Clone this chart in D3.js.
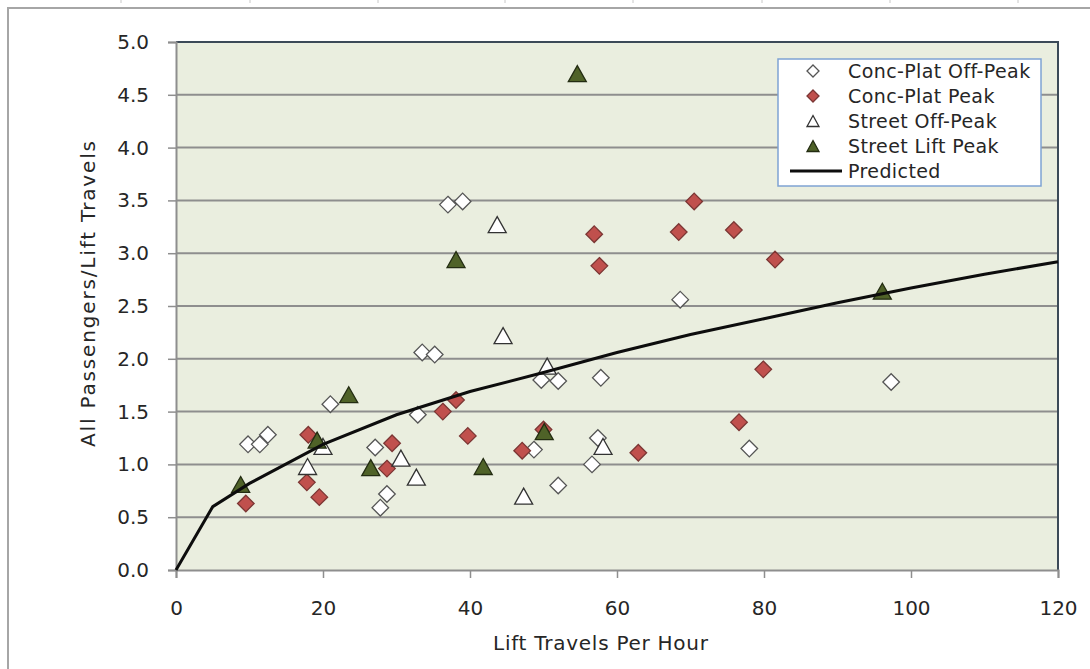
<!DOCTYPE html>
<html>
<head>
<meta charset="utf-8">
<script src="https://cdn.jsdelivr.net/npm/d3@7"></script>
<style>
  html, body { margin: 0; padding: 0; background: #ffffff; }
  svg { display: block; }
  text { font-family: "DejaVu Sans", sans-serif; fill: #262626; }
</style>
</head>
<body>
<svg id="chart" width="1090" height="669"></svg>
<script>
// ---- data ----
const concPlatOffPeak = [
  [9.8, 1.19], [11.4, 1.19], [12.5, 1.28], [21.0, 1.57], [27.1, 1.16], [27.8, 0.59],
  [28.7, 0.72], [32.9, 1.47], [33.5, 2.06], [35.2, 2.04], [37.0, 3.46], [39.0, 3.49],
  [48.7, 1.14], [49.7, 1.80], [52.0, 1.79], [52.0, 0.80], [56.6, 1.00], [57.4, 1.25],
  [57.8, 1.82], [68.6, 2.56], [78.0, 1.15], [97.3, 1.78]
];
const concPlatPeak = [
  [9.5, 0.63], [18.0, 1.28], [17.8, 0.83], [19.5, 0.69], [29.4, 1.20], [28.7, 0.96],
  [38.1, 1.61], [36.3, 1.50], [39.7, 1.27], [47.1, 1.13], [50.0, 1.33], [62.9, 1.11],
  [56.9, 3.18], [57.6, 2.88], [70.5, 3.49], [68.4, 3.20], [75.9, 3.22], [81.5, 2.94],
  [79.9, 1.90], [76.6, 1.40]
];
const streetOffPeak = [
  [17.9, 0.98], [20.0, 1.17], [30.6, 1.06], [32.7, 0.88], [43.7, 3.27], [44.5, 2.22],
  [47.3, 0.70], [50.5, 1.93], [58.1, 1.17]
];
const streetLiftPeak = [
  [8.8, 0.81], [19.2, 1.23], [23.5, 1.66], [26.5, 0.97], [38.1, 2.94], [41.8, 0.98],
  [50.1, 1.31], [54.6, 4.70], [96.1, 2.64]
];
const predictedX = [0, 5, 10, 20, 30, 40, 50, 60, 70, 80, 90, 100, 110, 120];
const predictedY = [0, 0.60, 0.82, 1.19, 1.47, 1.69, 1.87, 2.06, 2.23, 2.38, 2.53, 2.67, 2.80, 2.92];

const xTicks = [0, 20, 40, 60, 80, 100, 120];
const yTicks = [0, 0.5, 1.0, 1.5, 2.0, 2.5, 3.0, 3.5, 4.0, 4.5, 5.0];
const legendLabels = ["Conc-Plat Off-Peak", "Conc-Plat Peak", "Street Off-Peak", "Street Lift Peak", "Predicted"];
const xTitle = "Lift Travels Per Hour";
const yTitle = "All Passengers/Lift Travels";

// ---- layout ----
const svg = d3.select("#chart");
const plot = { left: 176, right: 1058, top: 42, bottom: 570 };
const x = d3.scaleLinear().domain([0, 120]).range([plot.left, plot.right]);
const y = d3.scaleLinear().domain([0, 5]).range([plot.bottom, plot.top]);

// outer frame of the chart (continues beyond the picture)
svg.append("path")
  .attr("d", "M8,669 L8,8 L1090,8")
  .attr("fill", "none").attr("stroke", "#a6a6a6").attr("stroke-width", 2);
// tiny marks at the very top (remnant of the picture above)
[121, 250, 378, 505, 633, 762, 890, 1018].forEach(px => {
  svg.append("line").attr("x1", px).attr("x2", px).attr("y1", 0).attr("y2", 3)
    .attr("stroke", "#c8c8c8").attr("stroke-width", 1);
});

// plot background
svg.append("rect")
  .attr("x", plot.left).attr("y", plot.top)
  .attr("width", plot.right - plot.left).attr("height", plot.bottom - plot.top)
  .attr("fill", "#eaeedf");

// grid lines
svg.append("g").selectAll("line")
  .data(yTicks.filter(d => d > 0 && d < 5))
  .join("line")
  .attr("x1", plot.left).attr("x2", plot.right)
  .attr("y1", d => y(d)).attr("y2", d => y(d))
  .attr("stroke", "#8e8e8e").attr("stroke-width", 2);

// top & right border
svg.append("path")
  .attr("d", `M${plot.left},${plot.top} L${plot.right},${plot.top} L${plot.right},${plot.bottom}`)
  .attr("fill", "none").attr("stroke", "#3c4a58").attr("stroke-width", 2);

// axes
const yAxis = d3.axisLeft(y).tickValues(yTicks).tickFormat(d3.format(".1f")).tickSize(8).tickPadding(19);
const gy = svg.append("g").attr("transform", `translate(${plot.left},0)`).call(yAxis);
gy.select(".domain").attr("stroke", "#8e8e8e").attr("stroke-width", 2);
gy.selectAll(".tick line").attr("stroke", "#8e8e8e").attr("stroke-width", 1.5);
gy.selectAll(".tick text").attr("font-size", 20).attr("fill", "#262626")
  .style("font-family", "'DejaVu Sans', sans-serif");

const xAxis = d3.axisBottom(x).tickValues(xTicks).tickFormat(d3.format("d")).tickSize(8).tickPadding(23);
const gx = svg.append("g").attr("transform", `translate(0,${plot.bottom})`).call(xAxis);
gx.select(".domain").attr("stroke", "#8e8e8e").attr("stroke-width", 2);
gx.selectAll(".tick line").attr("stroke", "#8e8e8e").attr("stroke-width", 1.5);
gx.selectAll(".tick text").attr("font-size", 20).attr("fill", "#262626")
  .style("font-family", "'DejaVu Sans', sans-serif");

// axis titles
svg.append("text")
  .attr("x", 493).attr("y", 650)
  .attr("font-size", 20)
  .attr("textLength", 215).attr("lengthAdjust", "spacing")
  .text(xTitle);
svg.append("text")
  .attr("transform", "translate(95,447) rotate(-90)")
  .attr("font-size", 20)
  .attr("textLength", 306).attr("lengthAdjust", "spacing")
  .text(yTitle);

// marker paths
function diamondPath(r) { return `M0,${-r} L${r},0 L0,${r} L${-r},0 Z`; }
function trianglePath(w, h) { return `M0,${-h / 2} L${w / 2},${h / 2} L${-w / 2},${h / 2} Z`; }

const styles = [
  { data: concPlatOffPeak, shape: "diamond", fill: "#ffffff", stroke: "#555555" },
  { data: concPlatPeak, shape: "diamond", fill: "#c0504d", stroke: "#7b3634" },
  { data: streetOffPeak, shape: "triangle", fill: "#ffffff", stroke: "#333333" },
  { data: streetLiftPeak, shape: "triangle", fill: "#4f6228", stroke: "#232c12" }
];

styles.forEach(s => {
  svg.append("g").selectAll("path")
    .data(s.data)
    .join("path")
    .attr("transform", d => `translate(${x(d[0])},${y(d[1])})`)
    .attr("d", s.shape === "diamond" ? diamondPath(8.3) : trianglePath(18, 16))
    .attr("fill", s.fill).attr("stroke", s.stroke).attr("stroke-width", 1.3);
});

// predicted line
const predicted = predictedX.map((v, i) => [v, predictedY[i]]);
svg.append("path")
  .datum(predicted)
  .attr("d", d3.line().x(d => x(d[0])).y(d => y(d[1])))
  .attr("fill", "none").attr("stroke", "#0d0d0d").attr("stroke-width", 3);

// legend
const lg = svg.append("g");
lg.append("rect")
  .attr("x", 778).attr("y", 59).attr("width", 263).attr("height", 127)
  .attr("fill", "#ffffff").attr("stroke", "#7fa3d3").attr("stroke-width", 1.5);
const rowY = [71, 96, 121, 146, 171];
legendLabels.forEach((lab, i) => {
  const cy = rowY[i];
  if (i < 4) {
    const s = styles[i];
    lg.append("path")
      .attr("transform", `translate(813,${cy})`)
      .attr("d", s.shape === "diamond" ? diamondPath(6) : trianglePath(12, 11))
      .attr("fill", s.fill).attr("stroke", s.stroke).attr("stroke-width", 1.3);
  } else {
    lg.append("line").attr("x1", 790).attr("x2", 842).attr("y1", cy).attr("y2", cy)
      .attr("stroke", "#0d0d0d").attr("stroke-width", 3);
  }
  lg.append("text").attr("x", 848).attr("y", cy + 7).attr("font-size", 19)
    .attr("letter-spacing", 0.4).text(lab);
});
</script>
</body>
</html>
